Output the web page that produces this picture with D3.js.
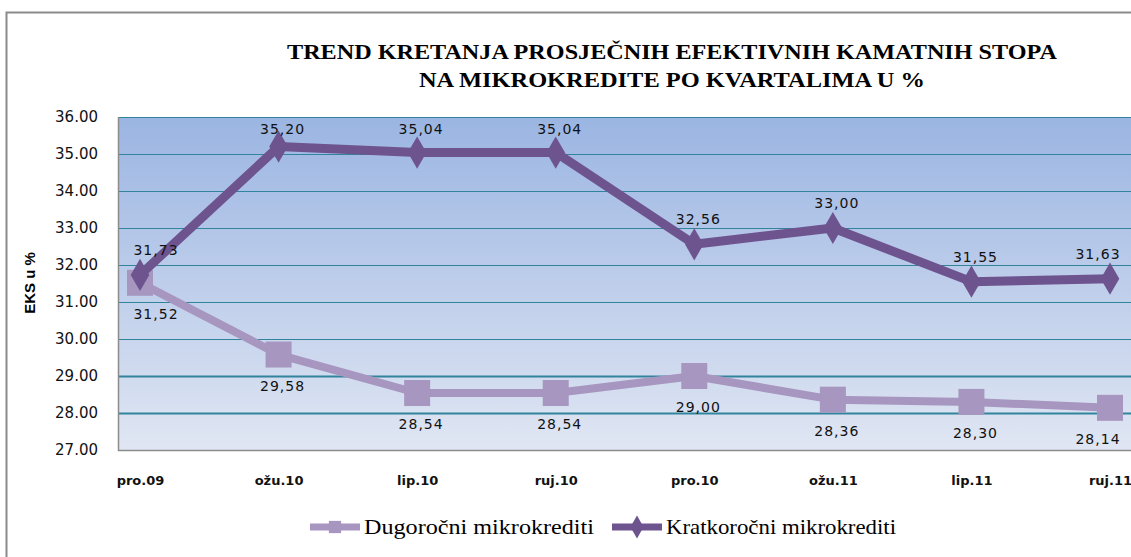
<!DOCTYPE html>
<html>
<head>
<meta charset="utf-8">
<script src="https://cdn.jsdelivr.net/npm/d3@7"></script>
<style>
  body { margin: 0; background: #fff; }
  svg { display: block; }
</style>
</head>
<body>
<div id="chart"></div>
<script>
// data
const quarters = ["pro.09", "ožu.10", "lip.10", "ruj.10", "pro.10", "ožu.11", "lip.11", "ruj.11"];
const dugorocni = [31.52, 29.58, 28.54, 28.54, 29.00, 28.36, 28.30, 28.14];
const kratkorocni = [31.73, 35.20, 35.04, 35.04, 32.56, 33.00, 31.55, 31.63];
const yTicks = [27, 28, 29, 30, 31, 32, 33, 34, 35, 36];
const seriesNames = ["Dugoročni mikrokrediti", "Kratkoročni mikrokrediti"];

const width = 1131;
const height = 557;
const plot = {left: 118, right: 1140, top: 117, bottom: 450};

const svg = d3.select("#chart").append("svg")
    .attr("width", width)
    .attr("height", height);

// gradient for plot area
const defs = svg.append("defs");
const grad = defs.append("linearGradient")
    .attr("id", "bg").attr("x1", 0).attr("y1", 0).attr("x2", 0).attr("y2", 1);
grad.append("stop").attr("offset", "0%").attr("stop-color", "#9bb5e2");
grad.append("stop").attr("offset", "100%").attr("stop-color", "#e0e6f3");

// outer frame
svg.append("path")
    .attr("d", "M6.5," + height + " V12.5 H" + width)
    .attr("fill", "none")
    .attr("stroke", "#8a8a8a")
    .attr("stroke-width", 2);

//----------------------------SCALES----------------------------//
const xScale = d3.scalePoint().domain(quarters).range([140, 1110]);
const yScale = d3.scaleLinear().domain([27, 36]).range([plot.bottom, plot.top]);

svg.append("rect")
    .attr("x", plot.left)
    .attr("y", plot.top)
    .attr("width", plot.right - plot.left)
    .attr("height", plot.bottom - plot.top)
    .attr("fill", "url(#bg)");

// gridlines
svg.append("g")
    .selectAll("line")
    .data(yTicks.filter(d => d > 27))
    .enter()
    .append("line")
    .attr("x1", plot.left)
    .attr("x2", plot.right)
    .attr("y1", d => Math.round(yScale(d)) + 0.5)
    .attr("y2", d => Math.round(yScale(d)) + 0.5)
    .attr("stroke", "#31849b")
    .attr("stroke-width", d => (d === 28 || d === 29) ? 2 : 1.2);

// plot left border + bottom axis
svg.append("path")
    .attr("d", "M" + (plot.left + 0.5) + "," + plot.top + " V" + (plot.bottom + 0.5) + " H" + plot.right)
    .attr("fill", "none")
    .attr("stroke", "#8c8c8c")
    .attr("stroke-width", 1.5);

//-----------------------------AXES-----------------------------//
const yaxis = d3.axisLeft(yScale)
    .tickValues(yTicks)
    .tickSize(0)
    .tickPadding(20)
    .tickFormat(d3.format(".2f"));

const yg = svg.append("g")
    .attr("transform", "translate(" + plot.left + ",0)")
    .call(yaxis);
yg.select(".domain").remove();
yg.selectAll("text")
    .attr("font-family", "DejaVu Sans, sans-serif")
    .attr("font-size", 15)
    .attr("fill", "#111");

const xaxis = d3.axisBottom(xScale).tickSize(0).tickPadding(26);
const xg = svg.append("g")
    .attr("transform", "translate(0," + plot.bottom + ")")
    .call(xaxis);
xg.select(".domain").remove();
xg.selectAll("text")
    .attr("font-family", "DejaVu Sans, sans-serif")
    .attr("font-weight", "bold")
    .attr("font-size", 13)
    .attr("fill", "#111");

svg.append("text")
    .attr("transform", "translate(35,283) rotate(-90)")
    .attr("text-anchor", "middle")
    .attr("font-family", "Liberation Sans, Arial, sans-serif")
    .attr("font-weight", "bold")
    .attr("font-size", 15)
    .text("EKS u %");

// title
const titleLines = ["TREND KRETANJA PROSJEČNIH EFEKTIVNIH KAMATNIH STOPA", "NA MIKROKREDITE PO KVARTALIMA U %"];
const titleLen = [770, 506];
svg.selectAll(".title")
    .data(titleLines)
    .enter()
    .append("text")
    .attr("class", "title")
    .attr("x", 672)
    .attr("y", (d, i) => 59 + i * 28)
    .attr("text-anchor", "middle")
    .attr("font-family", "Liberation Serif, serif")
    .attr("font-weight", "bold")
    .attr("font-size", 21)
    .attr("textLength", (d, i) => titleLen[i])
    .attr("lengthAdjust", "spacingAndGlyphs")
    .text(d => d);

//----------------------------LINES-----------------------------//
const line = d3.line()
    .x((d, i) => xScale(quarters[i]))
    .y(d => yScale(d));

const colDug = "#a796bf";
const colKrat = "#6e548f";

const dugG = svg.append("g");
dugG.append("path")
    .attr("d", line(dugorocni))
    .attr("fill", "none")
    .attr("stroke", colDug)
    .attr("stroke-width", 8)
    .attr("stroke-linejoin", "round");
dugG.selectAll("rect")
    .data(dugorocni)
    .enter()
    .append("rect")
    .attr("x", (d, i) => xScale(quarters[i]) - 13)
    .attr("y", d => yScale(d) - 13)
    .attr("width", 26)
    .attr("height", 26)
    .attr("fill", colDug);

const kratG = svg.append("g");
kratG.append("path")
    .attr("d", line(kratkorocni))
    .attr("fill", "none")
    .attr("stroke", colKrat)
    .attr("stroke-width", 9)
    .attr("stroke-linejoin", "round");
const diamond = d3.symbol().type(d3.symbolDiamond).size(300);
kratG.selectAll(".pt")
    .data(kratkorocni)
    .enter()
    .append("path")
    .attr("class", "pt")
    .attr("transform", (d, i) => "translate(" + xScale(quarters[i]) + "," + yScale(d) + ")")
    .attr("d", diamond)
    .attr("fill", colKrat);

//---------------------------LABELS-----------------------------//
const fmt = d => d3.format(".2f")(d).replace(".", ",");
const last = quarters.length - 1;
const labelX = i => xScale(quarters[i]) + (i === 0 ? 16 : i === last ? -12 : 4);

svg.append("g").selectAll("text")
    .data(dugorocni)
    .enter()
    .append("text")
    .attr("x", (d, i) => labelX(i))
    .attr("y", d => yScale(d) + 36)
    .attr("text-anchor", "middle")
    .attr("font-family", "DejaVu Sans, sans-serif")
    .attr("font-size", 14)
    .attr("letter-spacing", 1)
    .attr("fill", "#111")
    .text(fmt);

svg.append("g").selectAll("text")
    .data(kratkorocni)
    .enter()
    .append("text")
    .attr("x", (d, i) => labelX(i))
    .attr("y", d => Math.max(yScale(d) - 20, 134))
    .attr("text-anchor", "middle")
    .attr("font-family", "DejaVu Sans, sans-serif")
    .attr("font-size", 14)
    .attr("letter-spacing", 1)
    .attr("fill", "#111")
    .text(fmt);

//---------------------------LEGEND-----------------------------//
const legend = [
    {name: seriesNames[0], color: colDug, x: 310, tl: 230, sym: "square"},
    {name: seriesNames[1], color: colKrat, x: 612, tl: 230, sym: "diamond"}
];
const lg = svg.selectAll(".legend")
    .data(legend)
    .enter()
    .append("g")
    .attr("class", "legend")
    .attr("transform", d => "translate(" + d.x + ",527)");
lg.append("line")
    .attr("x1", 0).attr("x2", 50)
    .attr("stroke", d => d.color)
    .attr("stroke-width", 7);
lg.append("path")
    .attr("transform", "translate(25,0)")
    .attr("d", d => d.sym === "square"
        ? d3.symbol().type(d3.symbolSquare).size(150)()
        : d3.symbol().type(d3.symbolDiamond).size(150)())
    .attr("fill", d => d.color);
lg.append("text")
    .attr("x", 54)
    .attr("y", 7)
    .attr("font-family", "Liberation Serif, serif")
    .attr("font-size", 21)
    .attr("textLength", d => d.tl)
    .attr("lengthAdjust", "spacingAndGlyphs")
    .text(d => d.name);
</script>
</body>
</html>
